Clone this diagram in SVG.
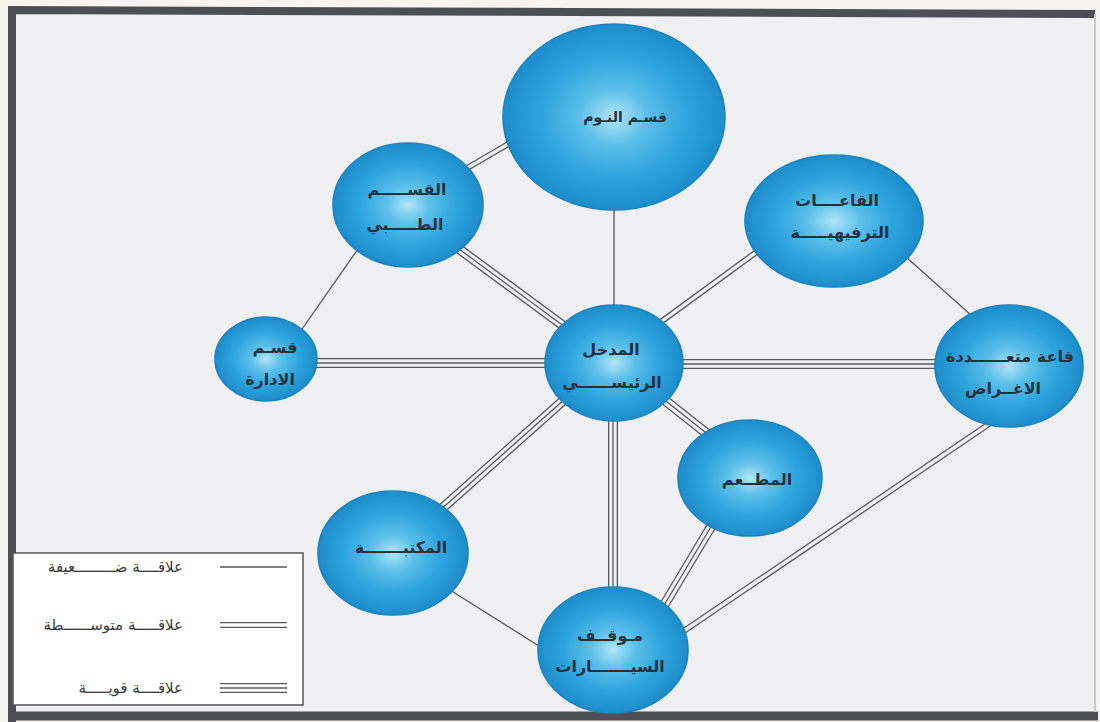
<svg xmlns="http://www.w3.org/2000/svg" xmlns:xlink="http://www.w3.org/1999/xlink" width="1100" height="722" viewBox="0 0 1100 722">
<style>
.bg{fill:#f0eff2}
.node{fill:url(#blue);stroke:#1b84bd;stroke-width:1.6}
.lbl{font-family:"DejaVu Sans","Noto Sans",sans-serif;font-size:16px;font-weight:bold;fill:#22323c;text-anchor:middle;dominant-baseline:middle}
.leg{font-family:"DejaVu Sans","Noto Sans",sans-serif;font-size:15px;fill:#3a3a3a;text-anchor:end;dominant-baseline:middle}
.s{fill:none;stroke:#555;stroke-width:1.3}
.w2{fill:none;stroke:#5a5a5a;stroke-width:6}
.w2i{fill:none;stroke:#f0eff2;stroke-width:3.4}
.w3{fill:none;stroke:#5a5a5a;stroke-width:10}
.w3i{fill:none;stroke:#f0eff2;stroke-width:7.4}
.w3c{fill:none;stroke:#5a5a5a;stroke-width:1.3}
.lw2i{fill:none;stroke:#fff;stroke-width:3.4}
.lw3i{fill:none;stroke:#fff;stroke-width:7.4}
</style>
<defs>
<radialGradient id="blue" cx="50%" cy="50%" r="50%">
<stop offset="0%" stop-color="#b2e5f8"/>
<stop offset="30%" stop-color="#5cc0ea"/>
<stop offset="65%" stop-color="#2ea4dd"/>
<stop offset="100%" stop-color="#1d8dcb"/>
</radialGradient>
<path id="e1" d="M462,171 L510,143"/>
<path id="e3" d="M455,246 L565,327"/>
<path id="e5" d="M312,363 L550,363"/>
<path id="e6" d="M762,248 L658,324"/>
<path id="e8" d="M678,364 L940,364"/>
<path id="e9" d="M662,398 L710,436"/>
<path id="e10" d="M565,399 L438,512"/>
<path id="e11" d="M613,418 L613,592"/>
<path id="e12" d="M715,520 L660,612"/>
<path id="e13" d="M995,420 L678,635"/>
<path id="l2" d="M220,625 L287,625"/>
<path id="l3" d="M220,688 L287,688"/>
</defs>
<rect x="0" y="0" width="1100" height="722" fill="#f6f4f1"/>
<rect class="bg" x="12" y="10" width="1083" height="705"/>
<path d="M12,722 L12,10 L1095,14" fill="none" stroke="#4d4f55" stroke-width="8"/>
<path d="M8,716 L1098,716" fill="none" stroke="#4d4f55" stroke-width="9"/>
<path d="M1095,14 L1095,712" fill="none" stroke="#c9c9cc" stroke-width="2"/>

<g id="connectors">
<use xlink:href="#e1" class="w2"/><use xlink:href="#e1" class="w2i"/>
<path class="s" d="M614,205 L614,310"/>
<use xlink:href="#e3" class="w3"/><use xlink:href="#e3" class="w3i"/><use xlink:href="#e3" class="w3c"/>
<path class="s" d="M358,249 L300,332"/>
<use xlink:href="#e5" class="w3"/><use xlink:href="#e5" class="w3i"/><use xlink:href="#e5" class="w3c"/>
<use xlink:href="#e6" class="w2"/><use xlink:href="#e6" class="w2i"/>
<path class="s" d="M905,256 L972,316"/>
<use xlink:href="#e8" class="w3"/><use xlink:href="#e8" class="w3i"/><use xlink:href="#e8" class="w3c"/>
<use xlink:href="#e9" class="w3"/><use xlink:href="#e9" class="w3i"/><use xlink:href="#e9" class="w3c"/>
<use xlink:href="#e10" class="w3"/><use xlink:href="#e10" class="w3i"/><use xlink:href="#e10" class="w3c"/>
<use xlink:href="#e11" class="w3"/><use xlink:href="#e11" class="w3i"/><use xlink:href="#e11" class="w3c"/>
<use xlink:href="#e12" class="w3"/><use xlink:href="#e12" class="w3i"/><use xlink:href="#e12" class="w3c"/>
<use xlink:href="#e13" class="w2"/><use xlink:href="#e13" class="w2i"/>
<path class="s" d="M450,590 L542,648"/>
</g>

<g id="node-sleep">
<ellipse class="node" cx="614" cy="117" rx="111" ry="93"/>
<text class="lbl" x="625" y="118" style="font-size:14px">قسـم النـوم</text>
</g>
<g id="node-medical">
<ellipse class="node" cx="408" cy="205" rx="75" ry="62"/>
<text class="lbl" x="407" y="190">القســـــم</text>
<text class="lbl" x="405" y="225">الطـــــبي</text>
</g>
<g id="node-recreation">
<ellipse class="node" cx="834" cy="221" rx="89" ry="66"/>
<text class="lbl" x="837" y="201">القاعــــات</text>
<text class="lbl" x="840" y="233">الترفيهيـــــة</text>
</g>
<g id="node-admin">
<ellipse class="node" cx="266" cy="359" rx="51" ry="42"/>
<text class="lbl" x="275" y="348">قسـم</text>
<text class="lbl" x="270" y="380">الادارة</text>
</g>
<g id="node-entrance">
<ellipse class="node" cx="614" cy="363" rx="69" ry="58"/>
<text class="lbl" x="611" y="350">المدخل</text>
<text class="lbl" x="612" y="383">الرئيســــــي</text>
</g>
<g id="node-multi">
<ellipse class="node" cx="1009" cy="366" rx="74" ry="61"/>
<text class="lbl" x="1010" y="357">قاعة متعــــــددة</text>
<text class="lbl" x="1003" y="389">الاغــراض</text>
</g>
<g id="node-restaurant">
<ellipse class="node" cx="750" cy="478" rx="72" ry="58"/>
<text class="lbl" x="757" y="480">المطــعم</text>
</g>
<g id="node-library">
<ellipse class="node" cx="393" cy="553" rx="75" ry="62"/>
<text class="lbl" x="401" y="548">المكتبـــــــة</text>
</g>
<g id="node-parking">
<ellipse class="node" cx="613" cy="650" rx="75" ry="63"/>
<text class="lbl" x="610" y="636">مـوقــف</text>
<text class="lbl" x="610" y="667">السيـــــــارات</text>
</g>

<g id="legend">
<rect x="13" y="553" width="290" height="152" fill="#ffffff" stroke="#555" stroke-width="1.5"/>
<path class="s" d="M220,567 L287,567"/>
<text class="leg" x="183" y="567">علاقــــة ضـــــــــعيفة</text>
<use xlink:href="#l2" class="w2"/><use xlink:href="#l2" class="lw2i"/>
<text class="leg" x="183" y="625">علاقـــــة متوســــــطة</text>
<use xlink:href="#l3" class="w3"/><use xlink:href="#l3" class="lw3i"/><use xlink:href="#l3" class="w3c"/>
<text class="leg" x="183" y="688">علاقــــة قويـــــة</text>
</g>
</svg>
